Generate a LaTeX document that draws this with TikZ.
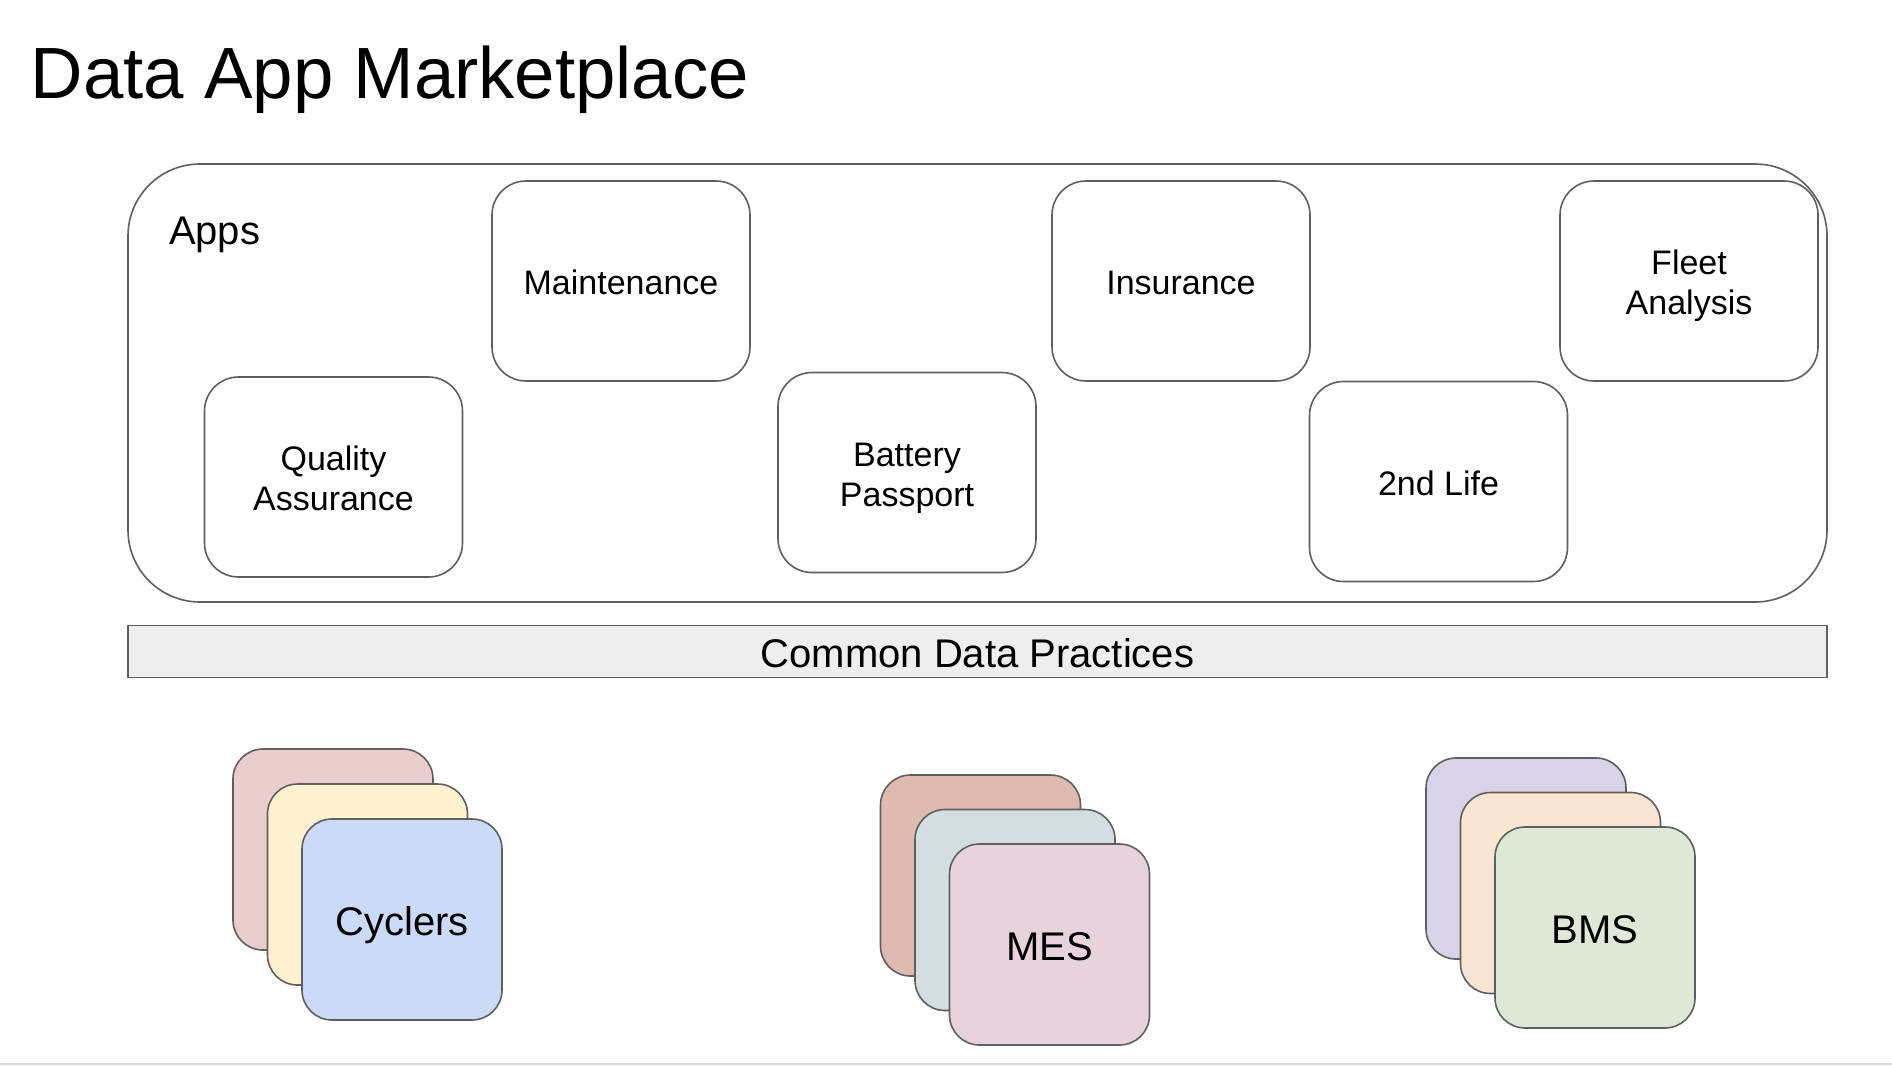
\documentclass[tikz,border=0pt]{standalone}
\usepackage{fontspec}
\setmainfont{Liberation Sans}
\usepackage{tikz}

\definecolor{edgegray}{HTML}{5F5F5F}
\definecolor{bargray}{HTML}{EEEEEE}
\definecolor{slideline}{HTML}{D9D9D9}
\definecolor{cycA}{HTML}{EACDCD}
\definecolor{cycB}{HTML}{FDF1CF}
\definecolor{cycC}{HTML}{CBDAF5}
\definecolor{mesA}{HTML}{DFBAB1}
\definecolor{mesB}{HTML}{D2DEE2}
\definecolor{mesC}{HTML}{E7D3DE}
\definecolor{bmsA}{HTML}{D9D3E8}
\definecolor{bmsB}{HTML}{F9E6D2}
\definecolor{bmsC}{HTML}{DDE8D6}

\begin{document}
\begin{tikzpicture}[x=1pt,y=-1pt,line width=1.6pt,
  app node/.style={draw=edgegray,fill=white,rounded corners=34pt,minimum width=258pt,
    minimum height=200pt,align=center,font=\fontsize{34}{40}\selectfont,
    text height=33pt,text depth=6pt},
  two lines/.style={text height=73pt},
  card node/.style={draw=edgegray,rounded corners=30pt,minimum width=200pt,
    minimum height=201pt,font=\fontsize{40}{48}\selectfont,
    text height=38pt,text depth=7pt}]

  \fill[white] (0,0) rectangle (1892,1066);
  \useasboundingbox (0,0) rectangle (1892,1066);

  \node[anchor=base west,inner sep=0pt,font=\fontsize{72.6}{80}\selectfont] (title) at (30,98) {Data App Marketplace};

  % apps layer
  \node[draw=edgegray,rounded corners=72pt,minimum width=1699pt,minimum height=438pt] (apps) at (977.5,383) {};
  \node[anchor=base west,inner sep=0pt,font=\fontsize{40}{48}\selectfont] (appslabel) at ([shift={(41,81)}]apps.north west) {Apps};

  \node[app node,two lines] (qa) at (333.5,477) {Quality\\Assurance};
  \node[app node] (maint) at (621,281) {Maintenance};
  \node[app node,two lines] (passport) at (907,472.5) {Battery\\Passport};
  \node[app node] (insurance) at (1181,281) {Insurance};
  \node[app node] (secondlife) at (1438.5,481.5) {2nd Life};
  \node[app node,two lines] (fleet) at (1689,281) {Fleet\\Analysis};

  \node[draw=edgegray,fill=bargray,minimum width=1699pt,minimum height=51pt,
    font=\fontsize{40}{48}\selectfont,text height=38pt,text depth=7pt] (practices) at (977.5,651.5) {Common Data Practices};

  % data sources
  \node[card node,fill=cycA] (cyc1) at (333,849.5) {Cyclers~};
  \node[card node,fill=cycB] (cyc2) at ([shift={(34.5,35)}]cyc1) {Cyclers~};
  \node[card node,fill=cycC] (cyc3) at ([shift={(34.5,35)}]cyc2) {Cyclers};

  \node[card node,fill=mesA] (mes1) at (980.5,875.5) {Cyclers~};
  \node[card node,fill=mesB] (mes2) at ([shift={(34.5,34.5)}]mes1) {Cyclers~};
  \node[card node,fill=mesC] (mes3) at ([shift={(34.5,34.5)}]mes2) {MES};

  \node[card node,fill=bmsA] (bms1) at (1526,858.5) {};
  \node[card node,fill=bmsB] (bms2) at ([shift={(34.5,34.5)}]bms1) {};
  \node[card node,fill=bmsC] (bms3) at ([shift={(34.5,34.5)}]bms2) {BMS};

  \draw[slideline,line width=2pt] (0,1064) -- (1892,1064);

\end{tikzpicture}
\end{document}
